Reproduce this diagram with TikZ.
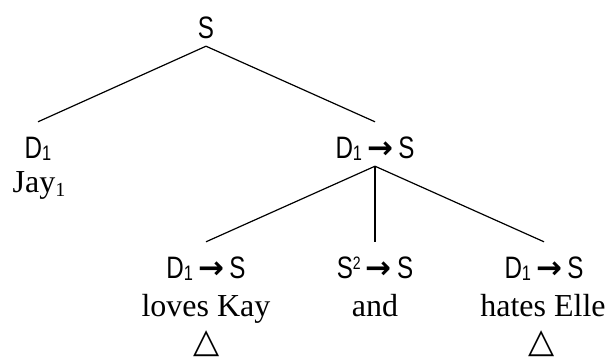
\documentclass[tikz,border=0pt]{standalone}
\usepackage{fontspec}
\setmainfont{Liberation Serif}
\newfontfamily\catfont{Liberation Sans}[FakeStretch=0.78]
\newfontfamily\symfont{DejaVu Sans}
% category notation pieces
\newcommand{\catarrow}{\,{\symfont\bfseries →}\,}
\newcommand{\lsub}{\raisebox{-2pt}{\fontsize{21}{21}\selectfont 1}}
\newcommand{\lsup}{\raisebox{9pt}{\fontsize{18}{18}\selectfont 2}}
\newcommand{\wsub}{\raisebox{-4pt}{\fontsize{20}{20}\selectfont 1}}
\begin{document}
\begin{tikzpicture}[x=1pt,y=-1pt,
  cat/.style={font=\catfont\fontsize{31}{31}\selectfont, inner sep=0pt,
    anchor=base, text height=36pt, text depth=8pt},
  word/.style={font=\fontsize{32}{32}\selectfont, inner sep=0pt, anchor=base},
  tri/.style={font=\symfont\fontsize{34}{34}\selectfont, inner sep=0pt, anchor=base},
  branch/.style={line width=1.2pt}]
\useasboundingbox (0,0) rectangle (612,356);

% root
\node[cat] (s) at (206,38) {S};

% subject
\node[cat] (d1) at (38,158) {D\lsub};
\node[word] (jay) at (39,192) {Jay\wsub};

% predicate
\node[cat] (ds) at (375,158) {D\lsub\catarrow S};

% conjuncts
\node[cat] (lk) at (206,278) {D\lsub\catarrow S};
\node[cat] (conj) at (375,278) {S\lsup\catarrow S};
\node[cat] (he) at (544,278) {D\lsub\catarrow S};

\node[word] (wlk) at (206,316) {loves Kay};
\node[word] (wand) at (375,316) {and};
\node[word] (whe) at (543,316) {hates Elle};

\node[tri] (tlk) at (207,352) {△};
\node[tri] (the) at (542,352) {△};

% branches
\draw[branch] (s.south) -- (d1.north);
\draw[branch] (s.south) -- (ds.north);
\draw[branch] (ds.south) -- (lk.north);
\draw[branch] (ds.south) -- (conj.north);
\draw[branch] (ds.south) -- (he.north);
\end{tikzpicture}
\end{document}
